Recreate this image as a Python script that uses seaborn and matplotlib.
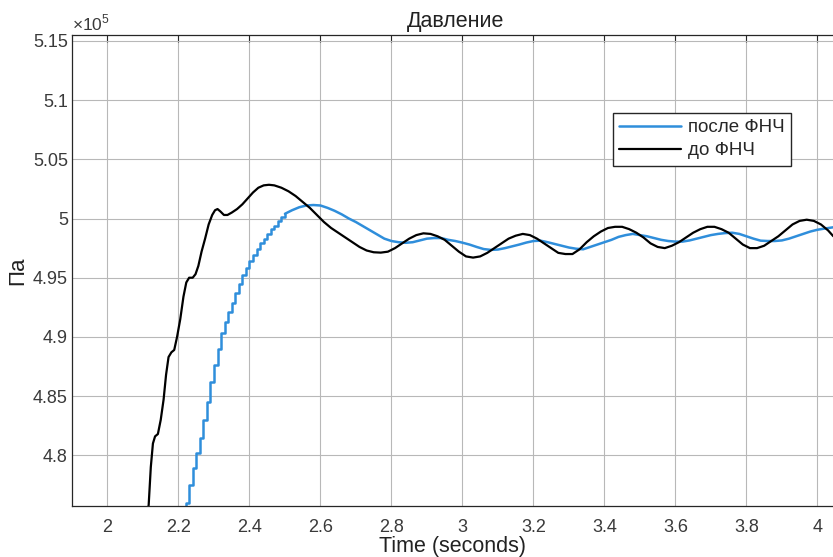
import numpy as np
import matplotlib
matplotlib.use("Agg")
import matplotlib.pyplot as plt
import seaborn as sns
from matplotlib.ticker import FixedLocator, FuncFormatter

# давление, x10^5 Па
# до ФНЧ (black)
t_raw = [2.112, 2.116, 2.122, 2.128, 2.134, 2.142, 2.150, 2.158, 2.165, 2.172,
         2.180, 2.188, 2.196, 2.205, 2.214, 2.222, 2.230, 2.240, 2.248, 2.256,
         2.265, 2.275, 2.285, 2.295, 2.303, 2.310, 2.318, 2.328, 2.338, 2.350,
         2.365, 2.380, 2.395, 2.410, 2.425, 2.440, 2.455, 2.470, 2.490, 2.510,
         2.530, 2.550, 2.570, 2.590, 2.610, 2.630, 2.650, 2.670, 2.690, 2.710,
         2.730, 2.750, 2.770, 2.790, 2.810, 2.830, 2.850, 2.870, 2.890, 2.910,
         2.930, 2.950, 2.970, 2.990, 3.010, 3.030, 3.050, 3.070, 3.090, 3.110,
         3.130, 3.150, 3.170, 3.190, 3.210, 3.230, 3.250, 3.270, 3.290, 3.310,
         3.330, 3.350, 3.370, 3.390, 3.410, 3.430, 3.450, 3.470, 3.490, 3.510,
         3.530, 3.550, 3.570, 3.590, 3.610, 3.630, 3.650, 3.670, 3.690, 3.710,
         3.730, 3.750, 3.770, 3.790, 3.810, 3.830, 3.850, 3.870, 3.890, 3.910,
         3.930, 3.950, 3.970, 3.990, 4.010, 4.030, 4.045]
p_raw = [4.752, 4.758, 4.790, 4.810, 4.816, 4.818, 4.830, 4.847, 4.868, 4.883,
         4.887, 4.889, 4.900, 4.915, 4.934, 4.946, 4.950, 4.950, 4.953, 4.960,
         4.972, 4.983, 4.995, 5.003, 5.007, 5.008, 5.006, 5.003, 5.003, 5.005,
         5.008, 5.012, 5.017, 5.022, 5.026, 5.028, 5.0285, 5.028, 5.026, 5.023,
         5.019, 5.014, 5.009, 5.003, 4.997, 4.992, 4.988, 4.984, 4.980, 4.976,
         4.973, 4.9715, 4.9712, 4.972, 4.975, 4.979, 4.983, 4.986, 4.9875, 4.987,
         4.985, 4.982, 4.977, 4.972, 4.968, 4.967, 4.968, 4.971, 4.975, 4.979,
         4.983, 4.9855, 4.987, 4.986, 4.983, 4.979, 4.975, 4.971, 4.970, 4.970,
         4.974, 4.980, 4.985, 4.989, 4.992, 4.993, 4.993, 4.991, 4.988, 4.984,
         4.979, 4.976, 4.975, 4.977, 4.980, 4.984, 4.988, 4.991, 4.993, 4.993,
         4.991, 4.988, 4.983, 4.978, 4.975, 4.975, 4.977, 4.981, 4.985, 4.990,
         4.995, 4.998, 4.999, 4.998, 4.995, 4.990, 4.985]

# после ФНЧ (blue), staircase part
t_flt_steps = [2.21, 2.22, 2.23, 2.24, 2.25, 2.26, 2.27, 2.28, 2.29, 2.30,
               2.31, 2.32, 2.33, 2.34, 2.35, 2.36, 2.37, 2.38, 2.39, 2.40,
               2.41, 2.42, 2.43, 2.44, 2.45, 2.46, 2.47, 2.48, 2.49, 2.50]
p_flt_steps = [4.745, 4.760, 4.775, 4.789, 4.802, 4.815, 4.830, 4.845, 4.862, 4.876,
               4.890, 4.903, 4.913, 4.921, 4.929, 4.937, 4.945, 4.952, 4.958, 4.964,
               4.969, 4.974, 4.979, 4.983, 4.987, 4.991, 4.994, 4.998, 5.001, 5.004]
# после ФНЧ, smooth part
t_flt = [2.50, 2.52, 2.54, 2.56, 2.58, 2.60, 2.62, 2.64, 2.66, 2.68,
         2.70, 2.72, 2.74, 2.76, 2.78, 2.80, 2.82, 2.84, 2.86, 2.88,
         2.90, 2.92, 2.94, 2.96, 2.98, 3.00, 3.02, 3.04, 3.06, 3.08,
         3.10, 3.12, 3.14, 3.16, 3.18, 3.20, 3.22, 3.24, 3.26, 3.28,
         3.30, 3.32, 3.34, 3.36, 3.38, 3.40, 3.42, 3.44, 3.46, 3.48,
         3.50, 3.52, 3.54, 3.56, 3.58, 3.60, 3.62, 3.64, 3.66, 3.68,
         3.70, 3.72, 3.74, 3.76, 3.78, 3.80, 3.82, 3.84, 3.86, 3.88,
         3.90, 3.92, 3.94, 3.96, 3.98, 4.00, 4.02, 4.045]
p_flt = [5.004, 5.007, 5.0095, 5.011, 5.0114, 5.011, 5.009, 5.0065, 5.0035, 5.000,
         4.997, 4.9935, 4.990, 4.9865, 4.983, 4.981, 4.980, 4.9795, 4.980, 4.9815,
         4.983, 4.9835, 4.9835, 4.982, 4.981, 4.9796, 4.978, 4.976, 4.9742, 4.9735,
         4.9738, 4.975, 4.9765, 4.978, 4.9797, 4.981, 4.9813, 4.980, 4.9785, 4.977,
         4.9755, 4.9745, 4.974, 4.976, 4.978, 4.980, 4.982, 4.9845, 4.986, 4.987,
         4.986, 4.985, 4.9835, 4.982, 4.981, 4.9805, 4.9805, 4.9815, 4.983, 4.9845,
         4.986, 4.987, 4.9877, 4.988, 4.987, 4.985, 4.983, 4.9813, 4.981, 4.981,
         4.9815, 4.983, 4.985, 4.987, 4.989, 4.9905, 4.9915, 4.9926]

x_ticks = [2, 2.2, 2.4, 2.6, 2.8, 3, 3.2, 3.4, 3.6, 3.8, 4]
y_ticks = [4.8, 4.85, 4.9, 4.95, 5.0, 5.05, 5.1, 5.15]

sns.set_style("white")
plt.rcParams['font.family'] = ['Liberation Sans', 'DejaVu Sans']
plt.rcParams['mathtext.fontset'] = 'custom'
plt.rcParams['mathtext.rm'] = 'Liberation Sans'

blue = '#2f8edb'
txt = '#3a3a3a'

fig = plt.figure(figsize=(8.33, 5.57), dpi=100)
ax = fig.add_axes([72/833, 51/557, 1 - 72/833, 471/557])

sns.lineplot(x=t_flt_steps, y=p_flt_steps, ax=ax, color=blue, lw=1.8,
             drawstyle='steps-post')
sns.lineplot(x=t_flt, y=p_flt, ax=ax, color=blue, lw=1.8)
sns.lineplot(x=t_raw, y=p_raw, ax=ax, color='black', lw=1.6)

ax.set_xlim(1.9, 4.044)
ax.set_ylim(4.7572, 5.155)
ax.xaxis.set_major_locator(FixedLocator(x_ticks))
ax.yaxis.set_major_locator(FixedLocator(y_ticks))
ax.xaxis.set_major_formatter(FuncFormatter(lambda v, p: f'{v:g}'))
ax.yaxis.set_major_formatter(FuncFormatter(lambda v, p: f'{round(v, 3):g}'))
ax.grid(True, color='#b8b8b8', lw=0.8)
ax.tick_params(direction='in', length=5, width=0.8, colors='#262626',
               labelcolor=txt, labelsize=13, top=True)
ax.tick_params(axis='x', pad=9)
ax.tick_params(axis='y', pad=3)
for s in ['left', 'bottom', 'top']:
    ax.spines[s].set_color('#262626')
    ax.spines[s].set_linewidth(0.9)
ax.spines['right'].set_visible(False)

ax.set_xlabel('Time (seconds)', fontsize=15.5, color='#222222', labelpad=0.5)
ax.set_ylabel('Па', fontsize=16, color='#222222', labelpad=3)
ax.set_title('Давление', fontsize=15.5, color='#222222', pad=6, x=0.504)
ax.text(0, 1.004, r'$\times10^{5}$', transform=ax.transAxes, ha='left',
        va='bottom', fontsize=12.5, color=txt)

h = ax.get_lines()
ax.legend([h[1], h[2]], ['после ФНЧ', 'до ФНЧ'], loc='upper left',
          bbox_to_anchor=(612.7/833, 1 - 112.7/557), bbox_transform=fig.transFigure,
          borderaxespad=0, fancybox=False, edgecolor='#262626', framealpha=1,
          fontsize=13.5, handlelength=3.3, handletextpad=0.35, labelspacing=0.3,
          borderpad=0.35)

fig.savefig('out.png', dpi=100)
